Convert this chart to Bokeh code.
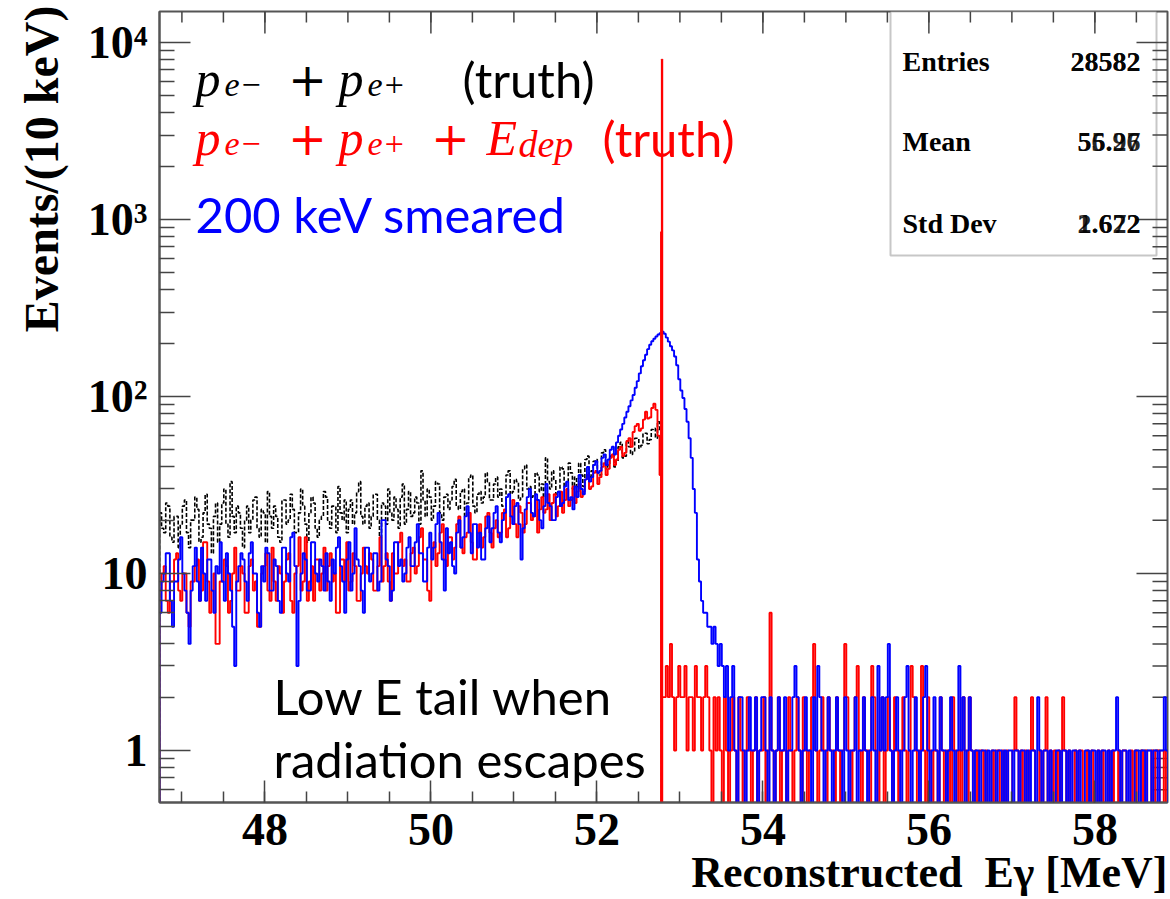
import numpy as np
from bokeh.plotting import figure
from bokeh.models import FixedTicker, Label, BoxAnnotation, Range1d, Title
from bokeh.embed import file_html
from bokeh.resources import INLINE

# ---------------- data ----------------
BIN_START = 46.73      # MeV, left edge of first bin
BIN_WIDTH = 0.025      # MeV per plotted bin (values are counts per 10 keV)

# p_e- + p_e+ (truth): 46.73 MeV up to the kinematic edge at 52.78 MeV
black_counts = [
    22, 18, 17, 25, 24, 16, 15, 21, 21, 14, 19, 24, 26, 17, 14, 20, 20, 27, 23, 15,
    16, 22, 28, 19, 18, 13, 21, 25, 15, 19, 25, 30, 19, 16, 33, 21, 17, 24, 22, 18,
    14, 20, 24, 17, 20, 26, 27, 18, 16, 23, 22, 15, 29, 21, 18, 24, 21, 16, 15, 26,
    26, 19, 20, 28, 23, 17, 17, 22, 30, 24, 19, 15, 22, 27, 25, 18, 16, 20, 21, 29,
    27, 20, 18, 24, 24, 17, 31, 22, 20, 26, 17, 23, 26, 19, 22, 29, 33, 21, 19, 24,
    25, 18, 21, 28, 28, 20, 16, 25, 24, 19, 30, 22, 20, 27, 23, 18, 27, 32, 19, 23,
    29, 21, 22, 27, 25, 19, 38, 26, 21, 30, 27, 20, 24, 33, 32, 22, 20, 27, 28, 23,
    26, 31, 34, 24, 23, 29, 30, 21, 25, 35, 36, 24, 22, 28, 29, 25, 27, 37, 33, 26,
    26, 32, 35, 27, 30, 24, 24, 36, 38, 28, 29, 34, 33, 26, 27, 39, 41, 30, 31, 27,
    28, 37, 36, 29, 32, 27, 45, 33, 30, 38, 34, 28, 29, 40, 39, 31, 33, 42, 37, 30,
    35, 31, 42, 36, 31, 44, 46, 35, 38, 43, 44, 37, 36, 48, 50, 39, 41, 46, 47, 40,
    43, 52, 55, 45, 46, 56, 52, 47, 49, 58, 58, 51, 53, 62, 62, 54, 57, 65, 66, 58,
    72, 64,
]

# p_e- + p_e+ + E_dep (truth): 46.73 MeV to 58.88 MeV
red_counts = [
    8, 10, 11, 7, 6, 9, 9, 12, 13, 8, 7, 10, 10, 6, 5, 9, 9, 11, 12, 7,
    8, 15, 15, 9, 6, 8, 10, 4, 4, 9, 9, 12, 11, 6, 7, 10, 14, 8, 8, 11,
    10, 6, 6, 11, 12, 8, 9, 5, 5, 10, 11, 13, 8, 7, 14, 9, 7, 11, 10, 6,
    9, 12, 13, 7, 6, 10, 11, 16, 8, 9, 16, 7, 9, 11, 7, 12, 12, 8, 10, 14,
    8, 11, 13, 9, 10, 6, 6, 12, 12, 9, 15, 8, 9, 13, 11, 7, 7, 10, 14, 11,
    10, 13, 12, 8, 8, 11, 16, 9, 11, 13, 9, 7, 13, 10, 10, 15, 17, 11, 12, 9,
    9, 13, 14, 10, 11, 16, 18, 12, 12, 8, 7, 14, 15, 11, 13, 17, 19, 12, 11, 16,
    16, 12, 14, 19, 21, 14, 13, 16, 17, 22, 15, 12, 12, 17, 19, 14, 16, 21, 22, 17,
    14, 18, 20, 16, 17, 22, 23, 16, 18, 21, 26, 19, 16, 24, 22, 17, 19, 25, 25, 20,
    21, 26, 17, 23, 27, 22, 23, 28, 20, 25, 28, 21, 24, 29, 22, 26, 30, 24, 26, 31,
    25, 29, 32, 27, 29, 34, 36, 30, 31, 37, 38, 32, 35, 40, 42, 36, 39, 45, 47, 41,
    44, 50, 52, 46, 48, 56, 58, 52, 63, 68, 70, 64, 66, 74, 82, 75, 76, 86, 91, 84,
    60, 36,
    2, 2, 3, 2, 4, 2, 1, 2, 3, 2, 2, 3, 1, 2, 2, 1, 3, 2, 2, 1, 2, 3, 2, 1, 0, 2, 1, 2, 1, 0, 2, 1,
    0, 1, 2, 1, 0, 2, 1, 0, 1, 2, 1, 0, 1, 2, 0, 1, 1, 2, 0, 1,
    6, 1, 0, 1, 2, 0, 1, 1, 0, 2, 1, 0, 1, 2, 1, 0, 2, 1, 0, 1,
    2, 4, 1, 0, 1, 2, 1, 0, 2, 1, 1, 0, 2, 1, 0, 1, 4, 2, 1, 0,
    1, 2, 3, 1, 0, 2, 1, 1, 0, 3, 2, 1, 0, 1, 2, 0, 1, 2, 1, 0,
    2, 1, 0, 1, 2, 1, 0, 1, 3, 2, 1, 0, 1, 3, 1, 0, 2, 1, 0, 1,
    1, 0, 2, 1, 0, 1, 1, 0, 2, 1, 0, 1, 0, 2, 1, 0, 2, 1, 0, 1,
    0, 1, 1, 0, 1, 0, 0, 1, 0, 1, 1, 0, 1, 0, 1, 0, 0, 1, 2, 1,
    0, 1, 0, 1, 0, 1, 2, 1, 0, 0, 1, 0, 1, 2, 0, 1, 0, 1, 0, 1,
    0, 2, 1, 0, 1, 0, 0, 1, 0, 1, 1, 0, 0, 1, 0, 1, 0, 0, 1, 0,
    1, 0, 0, 1, 0, 1, 0, 0, 1, 0, 1, 1, 0, 0, 1, 0, 1, 0, 0, 1,
    0, 1, 0, 0, 1, 0, 1, 1, 0, 0, 1, 0,
]
# the two narrow 10 keV bins of the red spike
red_spike_left = [52.77, 52.78]
red_spike_counts = [850, 8000]
SPIKE_WIDTH = 0.01

# 200 keV smeared: 46.73 MeV to 58.88 MeV
blue_counts = [
    6, 9, 10, 13, 13, 7, 5, 9, 9, 12, 16, 10, 8, 6, 4, 8, 11, 14, 9, 7,
    14, 10, 7, 12, 12, 8, 6, 11, 10, 15, 9, 7, 13, 10, 8, 5, 3, 9, 11, 13,
    12, 9, 7, 13, 15, 10, 10, 6, 5, 11, 9, 14, 13, 8, 8, 12, 11, 7, 6, 14,
    14, 10, 9, 16, 17, 11, 3, 7, 10, 13, 12, 8, 8, 15, 15, 10, 9, 12, 11, 8,
    13, 9, 7, 12, 10, 14, 16, 11, 9, 6, 12, 15, 8, 10, 18, 12, 11, 8, 6, 14,
    14, 9, 10, 13, 13, 8, 9, 20, 20, 12, 11, 7, 8, 15, 15, 11, 12, 9, 10, 14,
    16, 11, 11, 15, 19, 13, 13, 9, 9, 14, 17, 12, 14, 19, 22, 15, 12, 8, 18, 13,
    15, 11, 10, 17, 20, 14, 16, 21, 24, 17, 13, 19, 19, 14, 17, 12, 12, 18, 21, 15,
    18, 22, 24, 17, 15, 20, 22, 27, 28, 21, 19, 24, 25, 19, 12, 18, 23, 27, 30, 22,
    21, 28, 26, 20, 18, 24, 32, 25, 24, 20, 20, 27, 29, 24, 25, 31, 33, 26, 27, 23,
    31, 27, 36, 30, 28, 34, 40, 33, 35, 41, 43, 37, 38, 45, 47, 41, 44, 50, 52, 47,
    55, 60, 65, 70, 76, 82, 88, 95, 102, 112, 122, 135, 148, 160, 172, 185, 196, 205, 212, 218,
    224, 228,
    232, 226, 215, 204, 192, 182, 168, 150, 125, 108, 98, 85, 72, 58, 45, 30,
    22, 12, 9, 7, 6, 6, 5, 5, 4, 5, 4, 3, 4, 3, 2, 3,
    1, 2, 3, 1, 0, 2, 2, 1, 0, 1, 2, 1, 1, 2, 0, 1, 2, 2, 1, 0,
    2, 1, 0, 1, 2, 1, 1, 2, 0, 1, 1, 2, 3, 2, 1, 0, 1, 2, 1, 1,
    0, 2, 1, 3, 2, 1, 0, 1, 2, 1, 0, 1, 2, 1, 1, 0, 2, 1, 0, 1,
    1, 2, 0, 1, 1, 2, 1, 0, 1, 2, 1, 0, 3, 1, 2, 1, 2, 4, 1, 0,
    1, 2, 1, 0, 1, 2, 3, 1, 0, 1, 2, 1, 0, 1, 2, 3, 1, 0, 1, 2,
    1, 0, 2, 1, 1, 0, 1, 2, 1, 0, 1, 3, 1, 2, 0, 1, 2, 1, 0, 1,
    1, 0, 1, 1, 0, 1, 0, 1, 1, 0, 1, 1, 0, 1, 0, 1, 1, 0, 1, 1,
    0, 1, 1, 0, 1, 0, 1, 1, 0, 2, 1, 0, 1, 1, 0, 1, 0, 0, 1, 1,
    0, 1, 1, 0, 1, 0, 1, 1, 0, 1, 0, 0, 1, 1, 0, 1, 1, 0, 1, 0,
    1, 1, 0, 1, 0, 1, 1, 2, 1, 0, 1, 1, 0, 1, 0, 0, 1, 1, 0, 1,
    1, 0, 1, 1, 0, 1, 1, 0, 1, 1, 2, 1,
]

x_ticks = [48, 50, 52, 54, 56, 58]
y_ticks = [1, 10, 100, 1000, 10000]
y_tick_labels = {1: "1", 10: "10", 100: "10\u00b2", 1000: "10\u00b3", 10000: "10\u2074"}
x_title = "Reconstructed\u00a0\u00a0E\u03b3 [MeV]"
y_title = "Events/(10 keV)"

stats_names = ["Entries", "Mean", "Std Dev"]
stats_values_a = ["28582", "56.26", "1.672"]
stats_values_b = ["28582", "55.97", "2.622"]

# ---------------- layout ----------------
X_START, X_END = 46.73, 58.875
Y_START, Y_END = 0.508, 14960.0
FL, FT, FW, FH = 159, 11, 1008, 791
FLOOR = 0.1  # empty bins are drawn down below the axis

p = figure(frame_width=FW, frame_height=FH,
           x_range=Range1d(X_START, X_END), y_range=Range1d(Y_START, Y_END),
           y_axis_type="log", output_backend="svg", toolbar_location=None, tools="",
           min_border_left=FL, min_border_top=FT, min_border_right=3, min_border_bottom=97)
p.xgrid.visible = False
p.ygrid.visible = False
p.outline_line_color = "#555555"
p.outline_line_width = 2
p.background_fill_color = "white"
p.border_fill_color = "white"

x_minor = [m / 2 for m in range(94, 118)]
y_minor = [m * 10.0 ** d for d in range(-1, 5) for m in range(2, 10)]
xt = FixedTicker(ticks=x_ticks, minor_ticks=x_minor)
yt = FixedTicker(ticks=y_ticks, minor_ticks=y_minor)

AXC = "#555555"
TKC = "#444444"

def style_axis(ax, major_len, minor_len):
    ax.axis_line_color = AXC
    ax.axis_line_width = 2
    ax.major_tick_line_color = TKC
    ax.minor_tick_line_color = TKC
    ax.major_tick_line_width = 1.5
    ax.minor_tick_line_width = 1.5
    ax.major_tick_in = major_len
    ax.major_tick_out = 0
    ax.minor_tick_in = minor_len
    ax.minor_tick_out = 0
    ax.major_label_text_font = "Liberation Serif"
    ax.major_label_text_font_style = "bold"
    ax.major_label_text_font_size = "46px"
    ax.major_label_text_color = "black"

xa = p.xaxis[0]
xa.ticker = xt
style_axis(xa, 22, 11)
xa.major_label_standoff = 11

ya = p.yaxis[0]
ya.ticker = yt
style_axis(ya, 31, 15)
ya.major_label_overrides = y_tick_labels
ya.major_label_standoff = 12

# axis titles, ROOT-style aligned to the far ends of the axes
p.add_layout(Title(text=x_title, align="right", text_font="Liberation Serif",
                   text_font_style="bold", text_font_size="44px", text_color="black",
                   standoff=-4, offset=0), "below")
p.add_layout(Title(text=y_title, align="right", vertical_align="top",
                   text_font="Liberation Serif", text_font_style="bold",
                   text_font_size="48px", text_color="black",
                   standoff=29, offset=-6), "left")

LY0, LY1 = np.log10(Y_START), np.log10(Y_END)

def to_x(px):
    return X_START + (px - FL) * (X_END - X_START) / FW

def to_y(py):
    return 10 ** (LY0 + (FT + FH - py) * (LY1 - LY0) / FH)

# mirrored ticks on the top and right edges of the frame (ROOT style)
p.segment(x0=x_ticks, x1=x_ticks, y0=Y_END, y1=to_y(FT + 22),
          line_color=TKC, line_width=1.5)
p.segment(x0=x_minor, x1=x_minor, y0=Y_END, y1=to_y(FT + 11),
          line_color=TKC, line_width=1.5)
y_minor_in = [v for v in y_minor if Y_START < v < Y_END]
p.segment(x0=X_END, x1=to_x(FL + FW - 31), y0=y_ticks, y1=y_ticks,
          line_color=TKC, line_width=1.5)
p.segment(x0=X_END, x1=to_x(FL + FW - 15), y0=y_minor_in, y1=y_minor_in,
          line_color=TKC, line_width=1.5)

# ---------------- histograms ----------------
def step_xy(counts, start=BIN_START, width=BIN_WIDTH):
    v = np.asarray(counts, dtype=float)
    v = np.where(v > 0, v, FLOOR)
    edges = start + width * np.arange(len(v) + 1)
    xs = np.repeat(edges, 2)
    ys = np.concatenate([[FLOOR], np.repeat(v, 2), [FLOOR]])
    return xs, ys

bx, by = step_xy(black_counts)
p.line(bx, by, line_color="black", line_width=1.6, line_dash="4 2")
rx, ry = step_xy(red_counts)
p.line(rx, ry, line_color="#ff0000", line_width=1.9)
blx, bly = step_xy(blue_counts)
p.line(blx, bly, line_color="#0000ff", line_width=1.9)
p.quad(left=red_spike_left, right=[l + SPIKE_WIDTH for l in red_spike_left],
       bottom=FLOOR, top=red_spike_counts, fill_alpha=0,
       line_color="#ff0000", line_width=1.5)

# ---------------- texts inside the frame ----------------
def add_text(text, px, py, size, color="black", font="Liberation Serif", style="normal",
             align="left", alpha=1.0):
    p.add_layout(Label(x=to_x(px), y=to_y(py), text=text, text_font=font,
                       text_font_size=f"{size}px", text_font_style=style,
                       text_color=color, text_align=align, text_baseline="alphabetic",
                       text_alpha=alpha))

# stats box
p.add_layout(BoxAnnotation(left=to_x(890), right=to_x(1156), bottom=to_y(255), top=Y_END,
                           fill_color="white", fill_alpha=1.0, line_color="#444444",
                           line_width=2, level="underlay"))
for i, name in enumerate(stats_names):
    yb = [61, 141, 223][i]
    add_text(name, 902, yb, 28, style="bold")
    add_text(stats_values_a[i], 1140, yb, 28, style="bold", align="right", alpha=0.85)
    add_text(stats_values_b[i], 1140, yb, 28, style="bold", align="right", alpha=0.85)

# legend-like texts
MATH = "Liberation Serif"
SANS = "Lato"
for color, yb in (("black", 78), ("#ff0000", 137)):
    add_text("p", 195, yb, 50, color, MATH, "italic")
    add_text("e\u2212", 224, yb + 6, 34, color, MATH, "italic")
    add_text("+", 307, yb, 46, color, "DejaVu Sans", align="center")
    add_text("p", 338, yb, 50, color, MATH, "italic")
    add_text("e+", 367, yb + 6, 34, color, MATH, "italic")
add_text("(truth)", 462, 78, 49, "black", SANS)
add_text("+", 450, 137, 46, "#ff0000", "DejaVu Sans", align="center")
add_text("E", 486, 137, 50, "#ff0000", MATH, "italic")
add_text("dep", 518, 143, 38, "#ff0000", MATH, "italic")
add_text("(truth)", 602, 137, 49, "#ff0000", SANS)
add_text("200 keV smeared", 195, 213, 49, "#0000ff", SANS)

add_text("Low E tail when", 273, 695, 49, "black", SANS)
add_text("radiation escapes", 273, 758, 49, "black", SANS)

open("out.html", "w").write(file_html(p, INLINE))
